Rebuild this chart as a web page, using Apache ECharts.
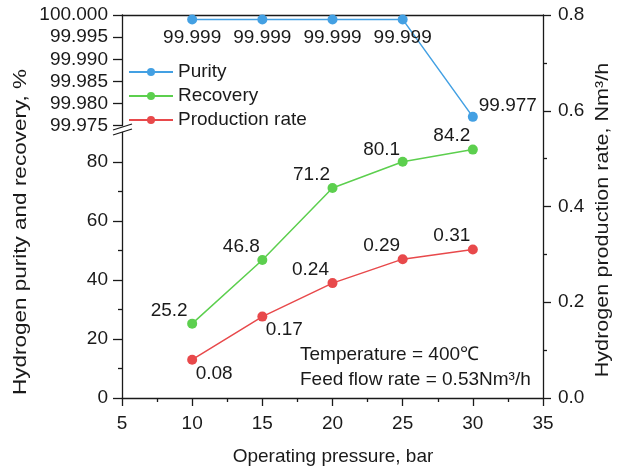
<!DOCTYPE html>
<html><head><meta charset="utf-8">
<script src="https://cdn.jsdelivr.net/npm/echarts@6/dist/echarts.min.js"></script>
<style>html,body{margin:0;padding:0;background:#fff}#c{width:624px;height:471px}</style>
</head><body><div id="c"></div>
<script>
// ---- data ----
const pressure = [10, 15, 20, 25, 30];
const purity = [99.999, 99.999, 99.999, 99.999, 99.977];
const recovery = [25.2, 46.8, 71.2, 80.1, 84.2];
const production = [0.08, 0.17, 0.24, 0.29, 0.31];
const purityTicks = [99.975, 99.980, 99.985, 99.990, 99.995, 100.000];
const lowerTicks = [0, 20, 40, 60, 80];
const lowerMinorTicks = [10, 30, 50, 70];

// ---- label offsets (style) ----
const purityOff = [[0,18],[0,18],[0,18],[0,18],[35,-11]];
const recoveryOff = [[-23,-13],[-21,-13],[-21,-13],[-21,-12],[-21,-14]];
const productionOff = [[22,14],[22,13],[-22,-13],[-21,-13],[-21,-14]];

const FONT = 'Arial, "Liberation Sans", sans-serif';
const FS = 19;
const TXT = '#1a1a1a';
const AX = '#1a1a1a';
const C_BLUE = '#43a0e3', C_GREEN = '#5ccf4e', C_RED = '#e8494b';

function pts(ys, offs, fmt) {
  return pressure.map((x, i) => ({
    value: [x, ys[i]],
    label: { offset: offs[i], formatter: fmt(ys[i]) }
  }));
}
const lbl = { show: true, position: 'inside', fontSize: FS, fontFamily: FONT, color: TXT, align: 'center', verticalAlign: 'middle' };

const L = 122, R = 81, TOP = 15, BOT = 73;
const axisLine = { show: true, lineStyle: { color: AX, width: 1.3 } };

const chart = echarts.init(document.getElementById('c'), null, { renderer: 'canvas' });
chart.setOption({
  animation: false,
  backgroundColor: '#fff',
  textStyle: { fontFamily: FONT },
  grid: [
    { left: L, right: R, top: TOP, bottom: BOT },
    { left: L, right: R, top: TOP, height: 110.7 },
    { left: L, right: R, top: 132.5, bottom: BOT }
  ],
  xAxis: [
    { type: 'value', gridIndex: 0, position: 'bottom', min: 5, max: 35, interval: 5,
      axisLine, axisTick: { show: true, inside: false, length: 8, lineStyle: { color: AX, width: 1.3 } },
      minorTick: { show: true, splitNumber: 2, length: 4, lineStyle: { color: AX, width: 1.3 } },
      axisLabel: { fontSize: FS, color: TXT, margin: 16, fontFamily: FONT },
      splitLine: { show: false } },
    { type: 'value', gridIndex: 0, position: 'top', min: 5, max: 35, interval: 5,
      axisLine, axisTick: { show: false }, axisLabel: { show: false }, splitLine: { show: false } },
    { type: 'value', gridIndex: 1, min: 5, max: 35, show: false },
    { type: 'value', gridIndex: 2, min: 5, max: 35, show: false }
  ],
  yAxis: [
    { type: 'value', gridIndex: 0, position: 'right', min: 0, max: 0.8, interval: 0.2,
      axisLine, axisTick: { show: true, length: 8, lineStyle: { color: AX, width: 1.3 } },
      minorTick: { show: true, splitNumber: 2, length: 4, lineStyle: { color: AX, width: 1.3 } },
      axisLabel: { fontSize: FS, color: TXT, margin: 15, fontFamily: FONT, formatter: v => v.toFixed(1) },
      splitLine: { show: false } },
    { type: 'value', gridIndex: 1, position: 'left', min: 99.975, max: 100,
      axisLine,
      axisTick: { show: true, length: 9, customValues: purityTicks, lineStyle: { color: AX, width: 1.3 } },
      axisLabel: { fontSize: FS, color: TXT, margin: 14, fontFamily: FONT, customValues: purityTicks, formatter: v => v.toFixed(3) },
      splitLine: { show: false } },
    { type: 'value', gridIndex: 2, position: 'left', min: 0, max: 90,
      axisLine,
      axisTick: { show: true, length: 9, customValues: lowerTicks, lineStyle: { color: AX, width: 1.3 } },
      axisLabel: { fontSize: FS, color: TXT, margin: 14, fontFamily: FONT, customValues: lowerTicks },
      splitLine: { show: false } },
    { type: 'value', gridIndex: 2, position: 'left', min: 0, max: 90,
      axisLine: { show: false },
      axisTick: { show: true, length: 4, customValues: lowerMinorTicks, lineStyle: { color: AX, width: 1.3 } },
      axisLabel: { show: false }, splitLine: { show: false } }
  ],
  legend: {
    orient: 'vertical', left: 123, top: 57.5, itemGap: 5, itemWidth: 44, itemHeight: 10,
    textStyle: { fontSize: FS, color: TXT, fontFamily: FONT },
    data: ['Purity', 'Recovery', 'Production rate']
  },
  series: [
    { name: 'Purity', type: 'line', xAxisIndex: 2, yAxisIndex: 1, symbol: 'circle', symbolSize: 10,
      color: C_BLUE, lineStyle: { width: 1.5 }, label: lbl,
      data: pts(purity, purityOff, v => v.toFixed(3)) },
    { name: 'Recovery', type: 'line', xAxisIndex: 3, yAxisIndex: 2, symbol: 'circle', symbolSize: 10,
      color: C_GREEN, lineStyle: { width: 1.5 }, label: lbl,
      data: pts(recovery, recoveryOff, v => v.toFixed(1)) },
    { name: 'Production rate', type: 'line', xAxisIndex: 0, yAxisIndex: 0, symbol: 'circle', symbolSize: 10,
      color: C_RED, lineStyle: { width: 1.5 }, label: lbl,
      data: pts(production, productionOff, v => v.toFixed(2)) }
  ],
  graphic: [
    { type: 'text', x: 21, y: 232, rotation: Math.PI / 2, scaleX: 1.25,
      style: { text: 'Hydrogen purity and recovery, %', fontSize: 18, fontFamily: FONT, fill: TXT, align: 'center', verticalAlign: 'middle' } },
    { type: 'text', x: 603, y: 220, rotation: Math.PI / 2, scaleX: 1.2,
      style: { text: 'Hydrogen production rate, Nm³/h', fontSize: 18, fontFamily: FONT, fill: TXT, align: 'center', verticalAlign: 'middle' } },
    { type: 'text', x: 333, y: 457,
      style: { text: 'Operating pressure, bar', fontSize: FS, fontFamily: FONT, fill: TXT, align: 'center', verticalAlign: 'middle' } },
    { type: 'text', x: 300, y: 355,
      style: { text: 'Temperature = 400℃', fontSize: FS, fontFamily: FONT, fill: TXT, align: 'left', verticalAlign: 'middle' } },
    { type: 'text', x: 300, y: 380,
      style: { text: 'Feed flow rate = 0.53Nm³/h', fontSize: FS, fontFamily: FONT, fill: TXT, align: 'left', verticalAlign: 'middle' } },
    { type: 'line', shape: { x1: 113, y1: 130, x2: 132, y2: 124 }, style: { stroke: AX, lineWidth: 1.3 } },
    { type: 'line', shape: { x1: 113, y1: 135, x2: 132, y2: 129 }, style: { stroke: AX, lineWidth: 1.3 } }
  ]
});
</script></body></html>
